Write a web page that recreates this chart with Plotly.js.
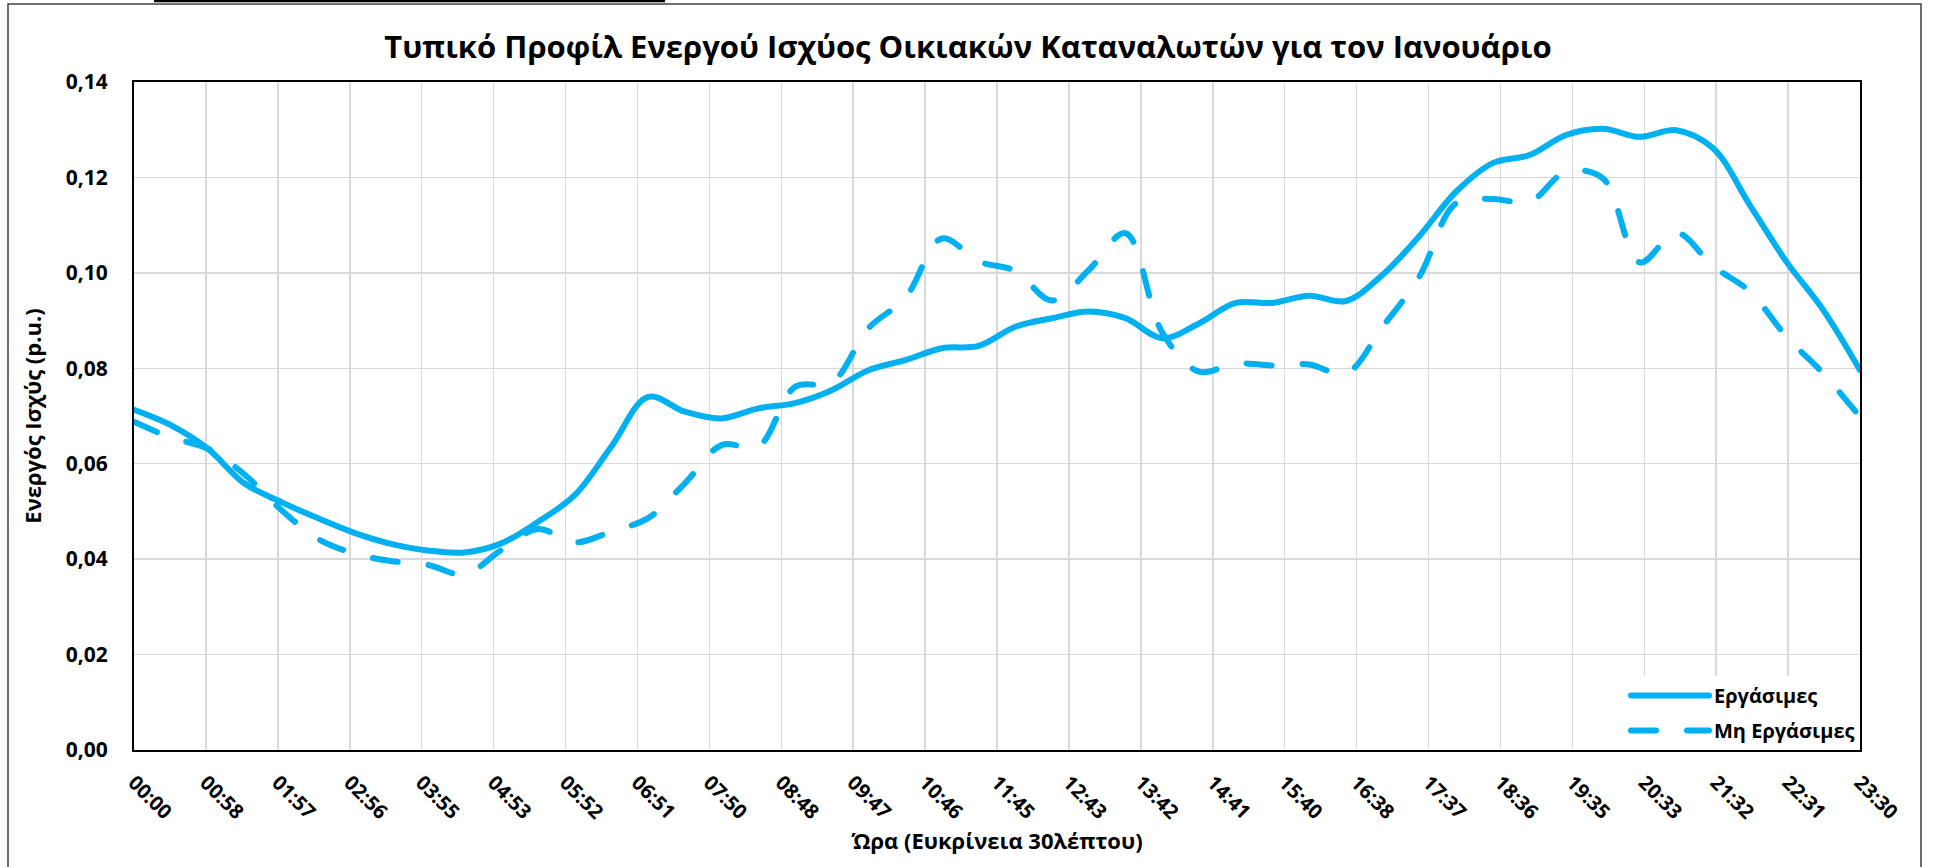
<!DOCTYPE html>
<html>
<head>
<meta charset="utf-8">
<script src="https://cdn.plot.ly/plotly-3.0.1.min.js"></script>
<style>
  html, body { margin: 0; padding: 0; background: #fff; }
  #chart { width: 1936px; height: 867px; }
  .js-line { stroke-linecap: round; stroke-linejoin: round; }
</style>
</head>
<body>
<div id="chart"></div>
<script>
// Time of each half-hour sample
const times = ["00:00","00:30","01:00","01:30","02:00","02:30","03:00","03:30",
  "04:00","04:30","05:00","05:30","06:00","06:30","07:00","07:30",
  "08:00","08:30","09:00","09:30","10:00","10:30","11:00","11:30",
  "12:00","12:30","13:00","13:30","14:00","14:30","15:00","15:30",
  "16:00","16:30","17:00","17:30","18:00","18:30","19:00","19:30",
  "20:00","20:30","21:00","21:30","22:00","22:30","23:00","23:30"];

// Εργάσιμες (working days)
const workdays = [0.0713,0.0681,0.0632,0.0559,0.0520,0.0486,0.0455,0.0432,
  0.0418,0.0414,0.0433,0.0478,0.0534,0.0636,0.0740,0.0709,
  0.0695,0.0716,0.0727,0.0754,0.0796,0.0817,0.0842,0.0847,
  0.0887,0.0905,0.0919,0.0905,0.0863,0.0894,0.0937,0.0937,
  0.0952,0.0941,0.0996,0.1077,0.1170,0.1230,0.1247,0.1289,
  0.1302,0.1285,0.1299,0.1261,0.1142,0.1023,0.0922,0.0796];

// Μη Εργάσιμες (non-working days)
const holidays = [0.0688,0.0655,0.0632,0.0578,0.0504,0.0443,0.0412,0.0396,
  0.0388,0.0368,0.0419,0.0463,0.0435,0.0458,0.0486,0.0559,
  0.0639,0.0636,0.0761,0.0770,0.0884,0.0947,0.1072,0.1024,
  0.1004,0.0942,0.1006,0.1083,0.0875,0.0793,0.0810,0.0806,
  0.0808,0.0789,0.0887,0.0992,0.1146,0.1155,0.1149,0.1212,
  0.1198,0.1022,0.1084,0.1014,0.0961,0.0866,0.0789,0.0698];

// X axis tick labels (24 equal intervals over 00:00–23:30)
const tickLabels = ["00:00","00:58","01:57","02:56","03:55","04:53","05:52","06:51",
  "07:50","08:48","09:47","10:46","11:45","12:43","13:42","14:41","15:40","16:38",
  "17:37","18:36","19:35","20:33","21:32","22:31","23:30"];

const seriesNames = ["Εργάσιμες", "Μη Εργάσιμες"];

const toMin = s => parseInt(s.slice(0,2),10)*60 + parseInt(s.slice(3),10);
const xMin = times.map(toMin);
const xEnd = xMin[xMin.length-1];
const tickVals = tickLabels.map((_, i) => i * xEnd / (tickLabels.length - 1));

const FONT = "'Open Sans', 'Noto Sans', sans-serif";
const BLUE = "#00B0F0";

const traces = [
  { x: xMin, y: workdays, name: seriesNames[0], legendgroup: "a", type: "scatter", mode: "lines",
    line: { color: BLUE, width: 6, shape: "spline", smoothing: 1 }, hoverinfo: "skip" },
  { x: xMin, y: holidays, name: seriesNames[1], legendgroup: "b", type: "scatter", mode: "lines",
    line: { color: BLUE, width: 6, shape: "spline", smoothing: 1, dash: "25px,31px" }, hoverinfo: "skip" }
];

const layout = {
  width: 1936, height: 867,
  margin: { l: 134, r: 76, t: 82, b: 117 },
  paper_bgcolor: "#fff", plot_bgcolor: "#fff",
  separators: ",.",
  font: { family: FONT, color: "#000" },
  title: {
    text: "Τυπικό Προφίλ Ενεργού Ισχύος Οικιακών Καταναλωτών για τον Ιανουάριο",
    font: { family: FONT, size: 31, weight: 700, color: "#000" },
    xref: "container", x: 0.5, xanchor: "center",
    yref: "container", y: 1 - 47/867, yanchor: "middle"
  },
  xaxis: {
    range: [0, xEnd], tickmode: "array", tickvals: tickVals, ticktext: tickLabels,
    tickangle: 45, ticks: "", ticklabelstandoff: 11,
    tickfont: { family: FONT, size: 20, weight: 700, color: "#000" },
    showgrid: true, gridcolor: "#d9d9d9", gridwidth: 1.5,
    showline: true, linecolor: "#000", linewidth: 2, mirror: true, zeroline: false,
    title: { text: "Ώρα (Ευκρίνεια 30λέπτου)", font: { family: FONT, size: 22, weight: 700, color: "#000" }, standoff: 10 }
  },
  yaxis: {
    range: [0, 0.14], dtick: 0.02, tickformat: ".2f", ticks: "", ticklabelstandoff: 20,
    tickfont: { family: FONT, size: 21, weight: 700, color: "#000" },
    showgrid: true, gridcolor: "#d9d9d9", gridwidth: 1.5,
    showline: true, linecolor: "#000", linewidth: 2, mirror: true, zeroline: false,
    title: { text: "Ενεργός Ισχύς (p.u.)", font: { family: FONT, size: 22, weight: 700, color: "#000" }, standoff: 18 }
  },
  legend: {
    x: 1, xanchor: "right", y: 0, yanchor: "bottom",
    bgcolor: "#fff", borderwidth: 0,
    font: { family: FONT, size: 20, weight: 700, color: "#000" },
    itemwidth: 78, tracegroupgap: 6
  },
  shapes: [
    { type: "rect", xref: "paper", yref: "paper",
      x0: (8-134)/1726, x1: (1921-134)/1726, y0: -0.3, y1: (750-4)/668,
      line: { color: "#404040", width: 1.5 } },
    { type: "line", xref: "paper", yref: "paper",
      x0: (154-134)/1726, x1: (665-134)/1726, y0: (750-1)/668, y1: (750-1)/668,
      line: { color: "#000", width: 2.5 } }
  ],
  showlegend: true
};

Plotly.newPlot("chart", traces, layout, { staticPlot: true, displayModeBar: false });
</script>
</body>
</html>
